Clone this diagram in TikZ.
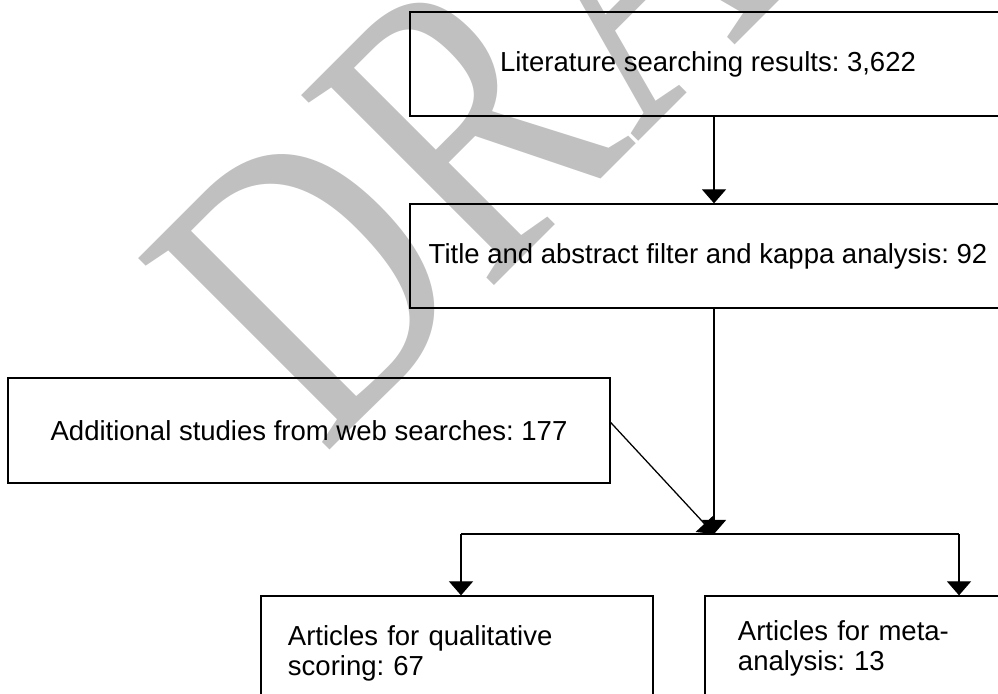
\documentclass[tikz,border=0pt]{standalone}
\usepackage{fontspec}
\setmainfont{Liberation Sans}
\newfontfamily\draftfont{Liberation Serif}
\usetikzlibrary{arrows.meta}
\definecolor{draftgray}{RGB}{192,192,192}
\frenchspacing

\begin{document}
\begin{tikzpicture}[
        x=0.025cm, y=-0.025cm,
        box/.style={draw, rectangle, line width=0.9pt, inner sep=0pt, font=\fontsize{19.56pt}{21.3pt}\selectfont},
        wide/.style={box, minimum width=14.9cm, minimum height=2.6cm},
        arrow/.style={-{Triangle[width=0.6cm, length=0.35cm]}, line width=0.9pt},
        link/.style={line width=0.9pt},
        draft/.style={text=draftgray, inner sep=0pt, font=\draftfont\fontsize{294pt}{294pt}\selectfont}
    ]

    % Page area
    \useasboundingbox (0,0) rectangle (998,694);
    \clip (0,0) rectangle (998,694);

    % Watermark
    \node[draft, anchor=base west, rotate=45, xscale=0.77, transform shape] (mark) at (323.5,456.5) {DRAFT};

    % Search blocks
    \node[wide] (lit) at (708,64) {Literature searching results: 3,622};
    \node[wide] (filter) at (708,256) {Title and abstract filter and kappa analysis: 92};
    \node[box, minimum width=15.05cm, minimum height=2.625cm] (extra) at (309,430.5) {Additional studies from web searches: 177};

    % Result blocks
    \node[box, minimum width=9.8cm, minimum height=2.85cm, text width=8.45cm, align=left] (qual) at (457,653) {Articles for qualitative\\scoring: 67};
    \node[box, minimum width=7.5cm, minimum height=2.6cm, text width=5.85cm, align=left] (meta) at (855,648) {Articles for meta-\\analysis: 13};

    % Connectors
    \coordinate (fork) at (714,534);
    \coordinate (forkl) at (461,534);
    \coordinate (forkr) at (959,534);
    \draw[arrow] (lit.south -| fork) -- (filter.north -| fork);
    \draw[arrow] (filter.south -| fork) -- (fork);
    \draw[arrow] ([yshift=0.2cm]extra.east) -- (fork);
    \draw[link] (forkl) -- (forkr);
    \draw[arrow] (forkl) -- (forkl |- qual.north);
    \draw[arrow] (forkr) -- (forkr |- meta.north);

\end{tikzpicture}
\end{document}
